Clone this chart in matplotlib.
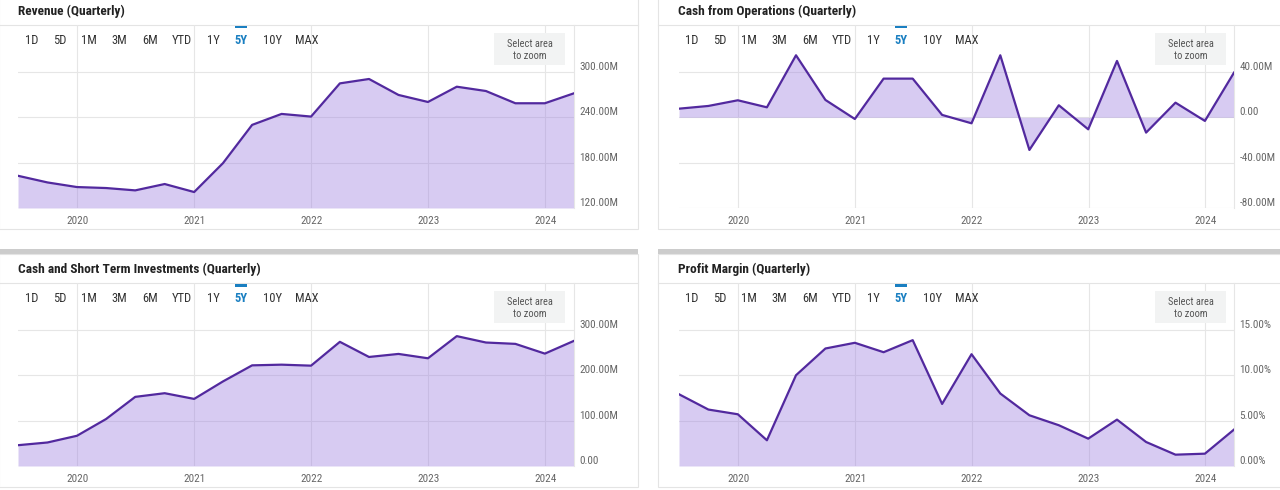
import numpy as np
import pandas as pd
import matplotlib
matplotlib.use("Agg")
import matplotlib.pyplot as plt
import matplotlib.dates as mdates
from matplotlib.patches import Rectangle

plt.rcParams['font.family'] = ['Roboto Condensed', 'Liberation Sans Narrow', 'Roboto', 'DejaVu Sans']

# quarter ends, 2019 Q2 .. 2024 Q1
quarters = pd.date_range('2019-06-30', periods=20, freq='QE')

revenue = [162.6, 153.8, 147.7, 146.4, 143.3, 151.7, 141.1, 179.3, 229.9, 244.4,
           240.9, 284.8, 290.6, 269.5, 260.2, 280.4, 274.7, 258.5, 258.5, 271.7]
cash_ops = [7.6, 10.0, 15.0, 8.8, 54.7, 15.3, -1.5, 34.1, 34.1, 2.1,
            -5.3, 54.7, -28.8, 10.6, -10.6, 49.7, -13.5, 12.9, -3.2, 39.4]
cash_sti = [45.9, 51.9, 66.7, 103.7, 152.6, 160.7, 148.1, 186.7, 222.2, 223.7,
            221.5, 274.1, 240.7, 247.4, 237.8, 286.7, 272.6, 269.6, 248.1, 276.3]
margin = [7.92, 6.23, 5.71, 2.84, 10.02, 12.97, 13.6, 12.56, 13.89, 6.85,
          12.34, 8.0, 5.6, 4.5, 3.02, 5.12, 2.65, 1.25, 1.36, 4.02]

titles = ['Revenue (Quarterly)', 'Cash from Operations (Quarterly)',
          'Cash and Short Term Investments (Quarterly)', 'Profit Margin (Quarterly)']
buttons = ['1D', '5D', '1M', '3M', '6M', 'YTD', '1Y', '5Y', '10Y', 'MAX']
years = [2020, 2021, 2022, 2023, 2024]

W, H = 1280, 490
LINE = '#52299e'
FILL = '#9c7fe0'
GRID = '#e6e6e6'

fig = plt.figure(figsize=(W / 100, H / 100), dpi=100)


def box(x0, y0, x1, y1):
    return [x0 / W, 1 - y1 / H, (x1 - x0) / W, (y1 - y0) / H]


bg = fig.add_axes([0, 0, 1, 1], zorder=0)
bg.set_xlim(0, W)
bg.set_ylim(H, 0)
bg.axis('off')
fg = fig.add_axes([0, 0, 1, 1], zorder=5)
fg.set_xlim(0, W)
fg.set_ylim(H, 0)
fg.axis('off')

# gray separators between rows
bg.add_patch(Rectangle((0, 249), 638, 5, color='#cccccc', lw=0))
bg.add_patch(Rectangle((658, 249), 622, 5, color='#cccccc', lw=0))

panels = [
    # data, ylim, yticks, ticklabels, card x range, y offset, plot x range
    (revenue, (120, 362), [120, 180, 240, 300],
     ['120.00M', '180.00M', '240.00M', '300.00M'], (-1, 638), 0, (18, 574)),
    (cash_ops, (-80, 81.4), [-80, -40, 0, 40],
     ['-80.00M', '-40.00M', '0.00', '40.00M'], (658, 1281), 0, (679, 1234)),
    (cash_sti, (0, 404), [0, 100, 200, 300],
     ['0.00', '100.00M', '200.00M', '300.00M'], (-1, 638), 258, (18, 574)),
    (margin, (0, 20.2), [0, 5, 10, 15],
     ['0.00%', '5.00%', '10.00%', '15.00%'], (658, 1281), 258, (679, 1234)),
]

for i, (vals, ylim, yt, ytl, (cx0, cx1), dy, (px0, px1)) in enumerate(panels):
    # card
    top = -1 if dy == 0 else 254
    bg.add_patch(Rectangle((cx0, top), cx1 - cx0, 229 + dy - top, fill=False,
                           ec='#e4e4e4', lw=0.8))
    bg.plot([cx0, cx1], [25 + dy, 25 + dy], color='#e4e4e4', lw=0.8)
    tx = 18 if cx0 < 0 else 678
    fg.text(tx, 11 + dy, titles[i], fontsize=9.6, fontweight='bold',
            color='#222222', va='center', ha='left')

    ax = fig.add_axes(box(px0, 25 + dy, px1, 208 + dy), zorder=1)
    ax.set_facecolor('none')
    ax.fill_between(quarters, vals, 0 if ylim[0] < 0 else ylim[0],
                    color=FILL, alpha=0.4, lw=0, zorder=2)
    ax.plot(quarters, vals, color=LINE, lw=1.6, zorder=3)
    ax.set_xlim(quarters[0], quarters[-1])
    ax.set_ylim(*ylim)
    ax.set_yticks(yt)
    ax.set_yticklabels(ytl)
    ax.yaxis.tick_right()
    ax.set_xticks([pd.Timestamp(f'{y}-01-01') for y in years])
    ax.xaxis.set_major_formatter(mdates.DateFormatter('%Y'))
    ax.tick_params(axis='y', length=0, pad=4, labelsize=8, labelcolor='#666666')
    ax.tick_params(axis='x', length=0, pad=6, labelsize=8, labelcolor='#666666')
    plt.setp(ax.get_yticklabels(), va='bottom')
    ax.grid(True, color=GRID, lw=0.8, zorder=0)
    for s in ['left', 'top', 'bottom']:
        ax.spines[s].set_visible(False)
    ax.spines['right'].set_color(GRID)
    ax.spines['right'].set_linewidth(0.8)

    # range selector buttons
    bx = [32, 60, 89, 119, 150, 182, 213, 241, 272, 307]
    off = 0 if cx0 < 0 else 660
    for b, x in zip(buttons, bx):
        if b == '5Y':
            fg.text(x + off, 40 + dy, b, fontsize=9, color='#1a7fc1',
                    fontweight='bold', ha='center', va='center')
            fg.add_patch(Rectangle((x + off - 6, 26 + dy), 12, 2.5,
                                   color='#1a7fc1', lw=0))
        else:
            fg.text(x + off, 40 + dy, b, fontsize=9, color='#333333',
                    ha='center', va='center')

    # zoom hint box
    zx = 494 if cx0 < 0 else 1155
    fg.add_patch(Rectangle((zx, 33 + dy), 71, 32, color='#f2f3f3', lw=0))
    fg.text(zx + 35.5, 44 + dy, 'Select area', fontsize=7.5, color='#555555',
            ha='center', va='center')
    fg.text(zx + 35.5, 56 + dy, 'to zoom', fontsize=7.5, color='#555555',
            ha='center', va='center')

fig.savefig('out.png', dpi=100)
